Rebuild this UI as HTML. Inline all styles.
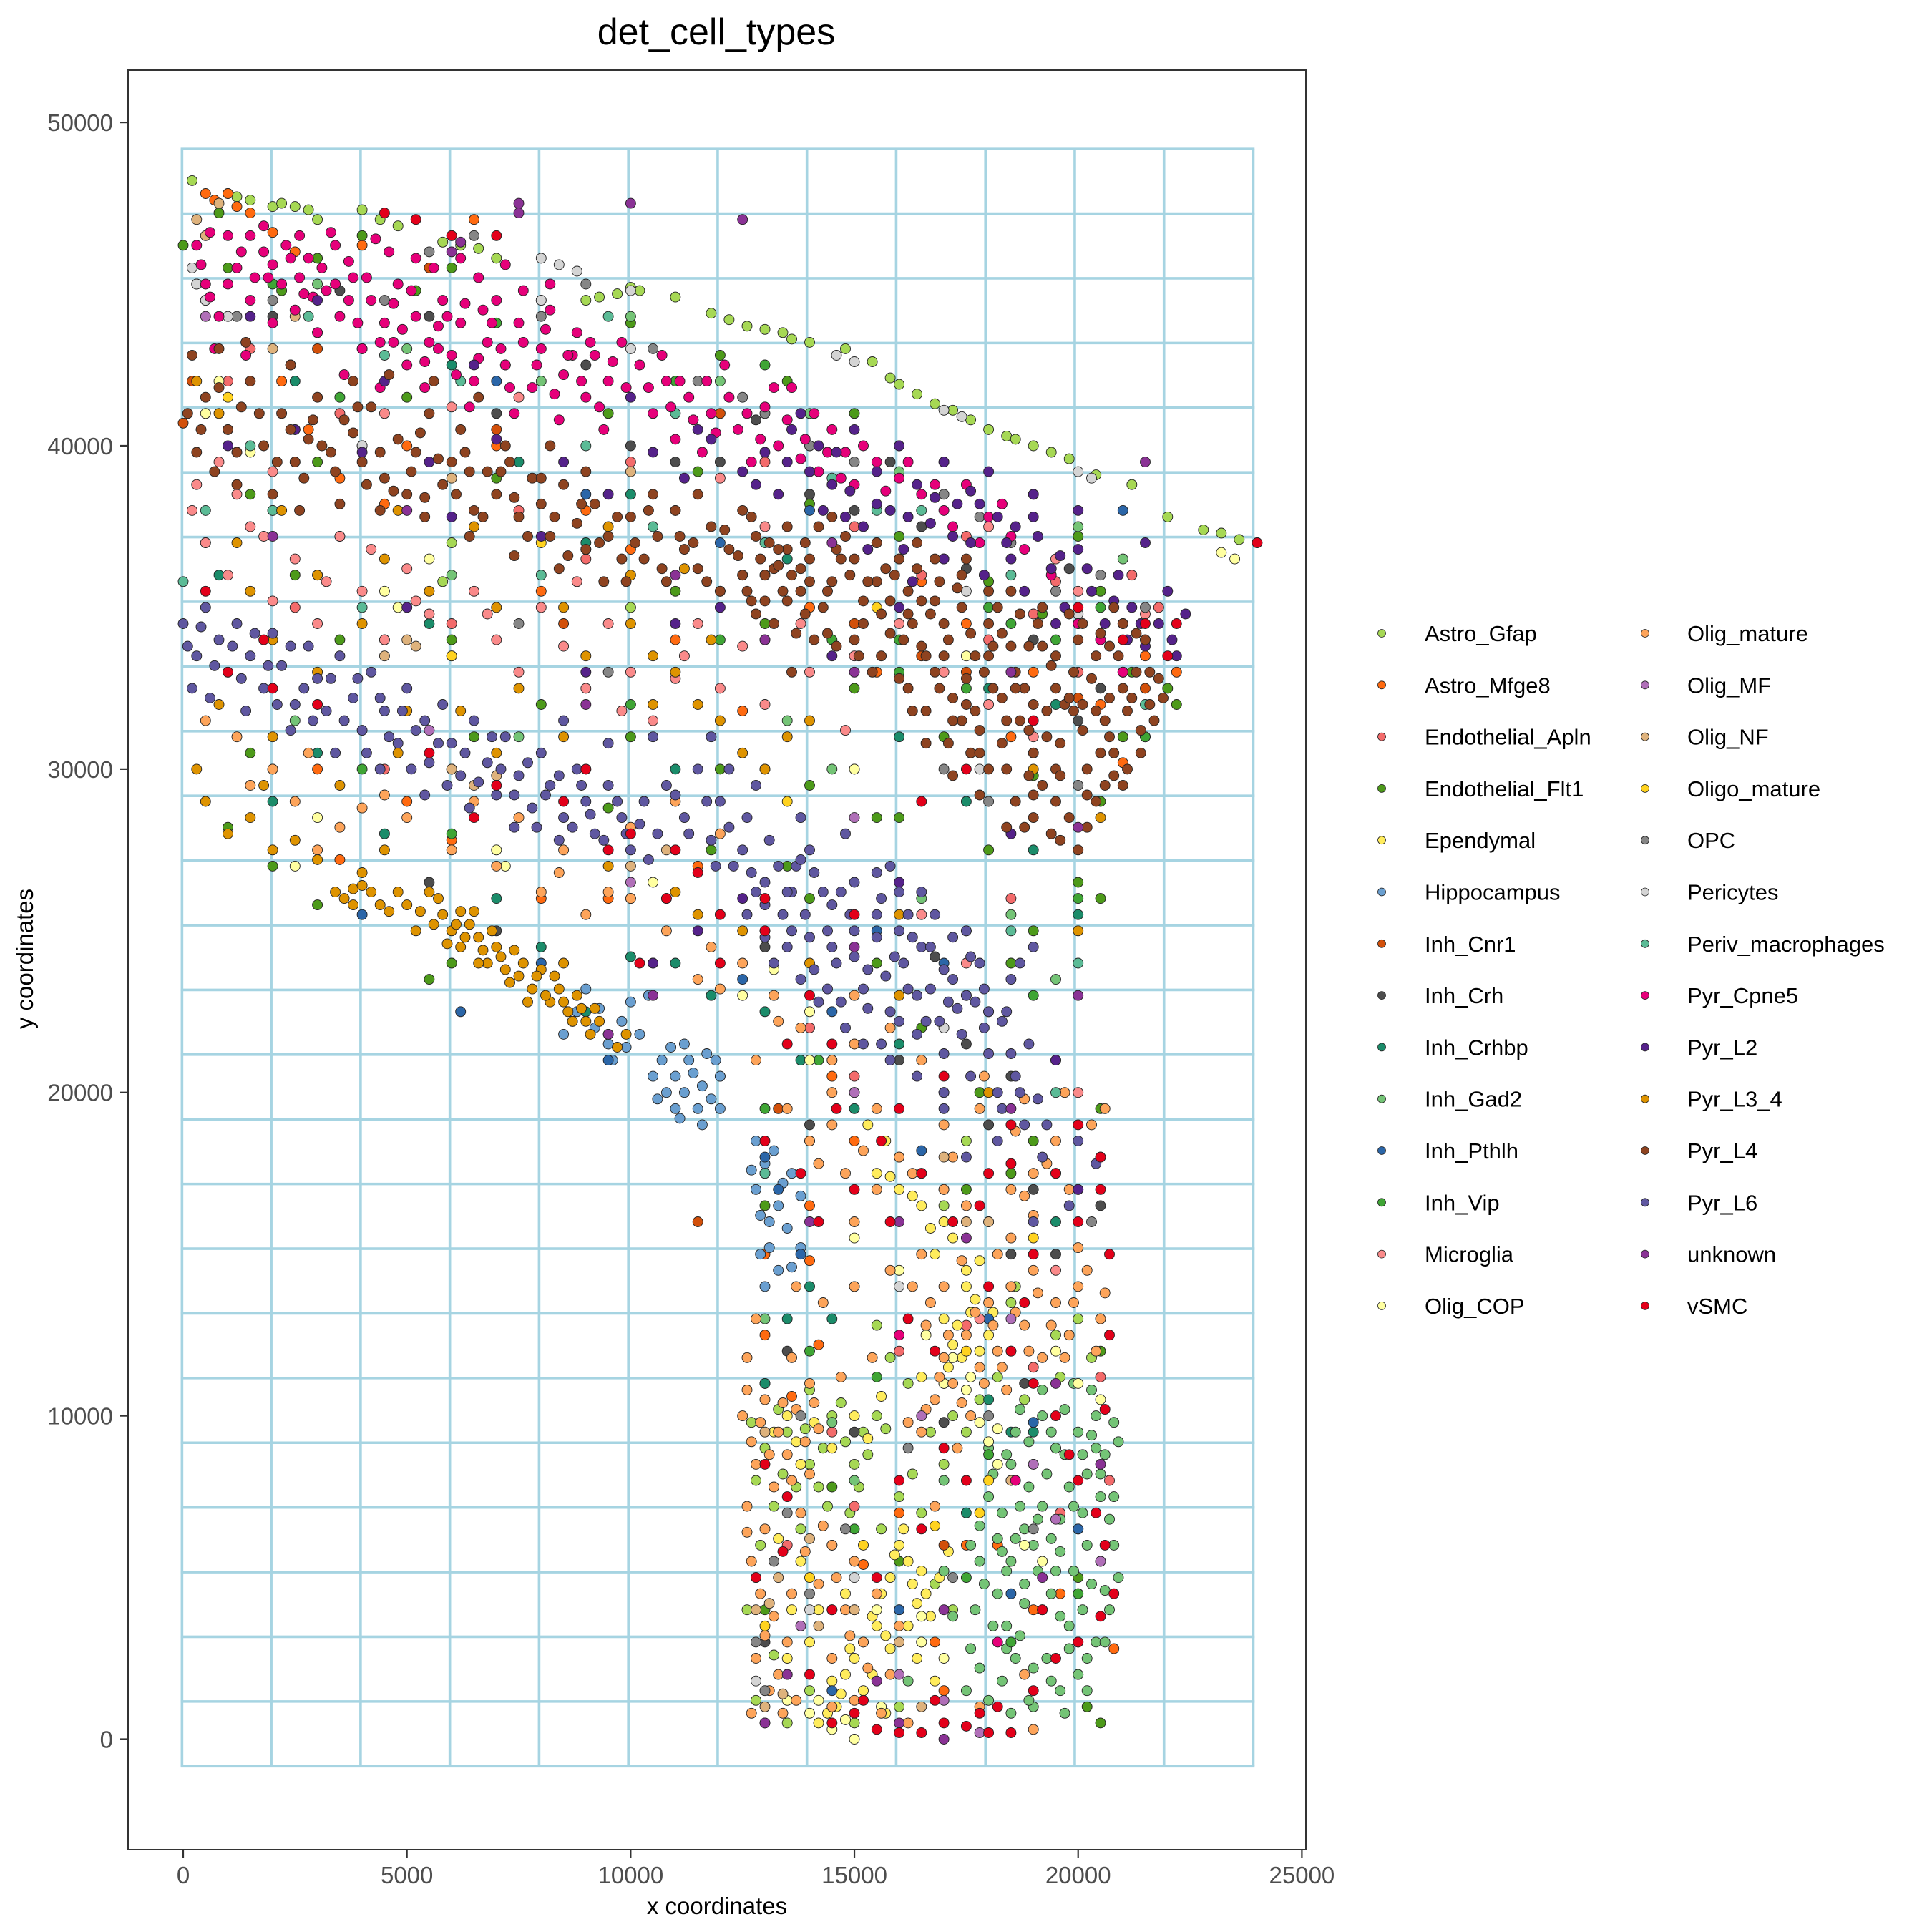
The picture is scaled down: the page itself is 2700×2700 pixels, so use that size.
<!DOCTYPE html>
<html><head><meta charset="utf-8"><title>det_cell_types</title>
<style>
html,body{margin:0;padding:0;background:#fff;}
svg{display:block;font-family:"Liberation Sans",Arial,sans-serif;}
</style></head>
<body>
<svg id="chart" width="2700" height="2700" viewBox="0 0 2700 2700">
<rect x="0" y="0" width="2700" height="2700" fill="#fff"/>
<text x="1001" y="62" font-size="52" text-anchor="middle" fill="#000">det_cell_types</text>
<g id="grid"></g>
<g id="points"></g>
<rect x="179" y="98" width="1646" height="2487" fill="none" stroke="#333" stroke-width="2"/>
<g id="axes"></g>
<text x="1002" y="2675" font-size="33" text-anchor="middle" fill="#000">x coordinates</text>
<text transform="translate(46,1340) rotate(-90)" font-size="33" text-anchor="middle" fill="#000">y coordinates</text>
<g id="legend"></g>
</svg>
<script>
// data (coordinates in hundreds of units)
const categories = ["Astro_Gfap","Astro_Mfge8","Endothelial_Apln","Endothelial_Flt1","Ependymal","Hippocampus","Inh_Cnr1","Inh_Crh","Inh_Crhbp","Inh_Gad2","Inh_Pthlh","Inh_Vip","Microglia","Olig_COP","Olig_mature","Olig_MF","Olig_NF","Oligo_mature","OPC","Pericytes","Periv_macrophages","Pyr_Cpne5","Pyr_L2","Pyr_L3_4","Pyr_L4","Pyr_L6","unknown","vSMC"];
const xTicks = [0,5000,10000,15000,20000,25000];
const yTicks = [0,10000,20000,30000,40000,50000];
const xTickLabels = ["0","5000","10000","15000","20000","25000"];
const yTickLabels = ["0","10000","20000","30000","40000","50000"];

const astroGfap = [2,482,10,478,15,476,20,474,25,474,40,473,48,468,62,462,66,461,90,445,100,449,102,448,110,446,122,439,126,437,130,436,134,435,136,433,148,430,154,426,160,419,164,416,168,413,176,408,180,405,184,403,190,400,198,396,204,391,212,388,220,378,228,374,232,373,236,371,240,370,
130,90,135,95,140,85,142,78,145,100,148,92,150,85,152,95,155,100,128,80,132,72,138,65,145,60,160,75,165,70,170,85,175,95,178,105,195,125,200,130,185,135,175,185,170,165,158,118,140,15,150,5,160,10,130,110,60,370,100,350,20,380,
12,477,22,475,28,473,30,470,44,470,58,463,70,458,93,446,97,447,118,441,140,432,158,421,172,411,186,402,194,398,
127,98,133,102,137,78,139,96,143,90,147,104,151,78,153,88,157,96,134,82,129,60,126,40,144,72,149,70,156,65,163,82,167,95,172,100,182,112,188,105,168,48,172,40,135,5,128,12,132,26,186,140,196,112,203,118,162,110,140,108,155,128,58,358,35,372];
const astroMfge8 = [5,478,10,478,15,472,20,466,25,460,40,462,60,465,65,470,10,405,35,390,50,400,70,400,90,380,100,368,130,360,140,350,165,358,175,345,190,330,205,320,215,335,222,330,35,272,60,278,80,260,115,270,120,205,145,205,150,185,140,165,150,140,160,70,175,60,190,40,200,20,170,15,140,148,130,125,
7,476,12,474,22,420,28,405,45,382,80,355,110,340,125,318,155,330,185,310,210,302,30,300,50,290,95,260,130,150,136,106,142,122,152,54,168,30,182,60,196,45,208,28];
const endothelialApln = [25,350,60,345,90,365,130,395,150,375,165,360,180,340,200,330,218,350,140,220,170,170,160,120,145,95,150,72,190,115,205,112,10,420,100,395,190,348,207,80,
15,430,35,410,75,380,110,380,140,400,160,365,175,372,195,358,212,360,185,260,150,205,135,60,175,128,196,70,45,300,20,300];
const endothelialFlt1 = [0,462,10,455,22,448,40,465,60,455,80,445,100,438,120,428,135,420,150,410,170,395,190,385,200,372,215,340,220,325,50,415,30,395,15,385,70,390,90,368,110,355,130,345,150,325,170,310,190,298,205,290,210,310,222,320,5,370,25,360,60,340,80,320,100,310,120,300,140,295,160,285,180,275,200,265,205,260,10,282,20,270,30,258,55,235,60,240,190,250,185,240,180,225,195,210,205,195,185,175,175,170,130,165,130,40,135,20,200,50,202,10,205,5,140,260,155,285,
8,472,30,458,52,448,72,425,95,410,115,392,140,382,160,372,180,358,192,348,205,355,212,330,35,340,15,305,65,310,95,288,118,275,135,270,155,240,165,220,178,200,190,185,200,170,185,140,170,110,160,55,150,40,145,78,195,90,205,120];
const ependymal = [160,60,162,55,158,50,163,48,156,45,160,40,155,35,152,30,158,28,150,25,148,20,145,18,152,15,146,10,142,5,165,52,166,45,162,35,140,30,135,25,148,45,142,40,138,55,133,62,170,130,172,122,175,140,176,132,174,118,178,148,168,150,170,160,165,165,160,170,155,175,160,180,165,112,168,105,180,125,150,200,153,190,157,185,145,210,132,95,135,100,150,100,145,90,138,85,164,25,168,18,157,8,136,40,
161,65,159,57,164,42,154,38,157,32,149,28,147,14,144,8,154,20,167,38,169,50,171,58,173,128,177,136,175,145,172,155,167,158,163,168,158,174,171,115,178,120,181,132,137,92,141,98,153,93,156,106];
const hippocampus = [107,210,110,205,112,200,115,195,108,200,113,210,116,202,118,198,110,195,105,205,112,215,117,212,120,205,120,195,88,225,92,220,95,215,98,222,100,228,102,218,96,210,85,218,90,232,104,230,128,185,130,178,128,170,131,160,129,150,133,165,135,158,138,152,133,145,130,140,136,175,138,168,132,182,
109,214,114,206,119,210,106,198,111,192,116,190,93,226,99,214,87,222,127,176,134,172,131,152,136,146,129,162];
const inhCnr1 = [0,407,2,420,30,430,70,405,150,345,165,335,200,322,140,185,115,160,133,195,205,130,170,60,
55,455,120,410,175,330,215,325,100,260,85,345];
const inhCrh = [3,450,20,440,40,430,70,410,100,400,120,395,150,380,165,375,175,362,190,340,205,325,130,245,160,210,175,215,180,190,190,170,195,150,140,190,135,120,150,95,170,98,185,150,70,250,55,265,110,395,140,385,200,315,215,310,
35,448,55,440,90,425,128,408,158,395,183,382,198,362,168,242,185,205,205,165,188,110,145,40,130,30];
const inhCrhbp = [20,290,30,305,45,280,70,260,80,245,90,225,100,242,110,240,118,230,130,225,138,210,150,195,160,215,180,105,190,95,175,70,135,130,145,130,160,145,55,345,40,400,90,370,120,355,180,325,195,320,205,305,60,425,110,300,150,300,8,360,
25,420,75,395,100,385,135,365,160,310,175,290,190,275,200,255,130,110,140,140,185,95,195,160,170,200];
const inhGad2 = [180,75,183,70,185,80,188,65,190,85,192,72,195,90,198,78,200,95,202,82,204,100,206,88,208,75,185,55,188,48,190,60,192,40,195,52,198,35,200,45,202,60,205,55,207,40,182,45,184,35,186,25,183,18,180,12,193,25,196,15,200,20,204,30,180,90,186,95,192,100,197,102,203,108,200,65,194,62,182,62,178,55,177,40,176,28,175,15,190,10,205,75,208,60,201,70,189,92,196,68,176,60,185,85,150,80,145,98,130,130,170,80,
30,450,50,430,80,420,100,440,120,420,140,410,160,392,200,375,210,365,60,360,45,340,25,315,75,310,90,300,135,315,145,300,165,260,185,255,195,235,
181,82,184,88,187,72,189,78,191,68,193,82,194,95,197,88,199,72,201,88,203,94,205,82,207,68,183,58,186,62,188,42,191,52,194,45,196,38,199,52,201,40,203,48,206,46,184,28,187,32,190,22,194,18,198,28,202,25,179,48,181,35,178,22,187,102,192,108,199,110,204,90,209,92,209,50,206,30,196,58,184,52,178,66,189,12,185,8,197,8,202,15,208,98,170,52,172,38,165,30,162,18];
const inhPthlh = [40,255,62,225,80,240,95,210,130,180,133,170,138,150,180,130,190,98,185,45,145,15,160,40,210,380,120,370,30,360,70,420,155,250,170,240,
125,235,145,225,165,182,200,65,140,380,90,385];
const inhVip = [40,300,60,280,100,320,120,340,145,340,160,340,180,350,195,340,210,330,130,195,142,210,190,230,200,260,200,45,185,30,175,50,160,125,180,88,150,65,20,450,35,415,
70,438,110,420,130,425,185,345,205,350,215,310,160,330,175,325,140,120,155,112];
const microglia = [5,370,10,360,15,375,20,352,25,365,30,345,35,372,40,355,45,340,50,362,55,348,60,335,65,355,70,340,75,330,80,350,85,338,90,325,95,345,100,330,105,315,110,328,115,345,120,325,125,338,130,320,140,330,150,335,160,345,170,330,180,320,190,310,2,380,12,385,8,395,25,405,45,410,75,415,120,390,130,375,155,370,180,375,195,365,200,355,215,348,165,255,175,240,200,200,195,145,178,130,
3,388,18,372,32,358,42,368,52,352,68,348,88,358,98,318,112,335,138,345,148,312,20,392,60,412];
const oligCOP = [5,410,8,420,15,398,45,355,70,275,72,270,105,265,108,260,125,230,140,210,150,155,160,145,166,125,170,110,175,108,178,98,180,92,182,85,165,30,170,25,140,8,145,3,150,0,135,12,155,40,195,120,200,110,205,105,188,60,55,365,30,285,25,270,150,300,175,335,232,367,235,365,
142,12,148,6,156,10,165,38,172,118,176,112,182,96,192,55,140,225,132,238,48,350];
const oligMature = [125,100,127,92,128,85,130,105,132,78,133,95,135,88,137,102,138,70,140,82,142,96,130,65,127,55,129,45,132,38,135,30,128,25,131,15,134,8,126,72,126,118,128,130,145,60,150,55,148,40,155,45,152,30,158,20,145,25,160,35,142,48,150,12,162,5,165,95,168,105,170,118,172,110,175,125,178,115,180,135,182,120,185,140,188,128,190,145,176,100,184,108,192,118,195,135,198,125,200,140,205,130,166,128,170,140,173,90,170,170,175,165,180,160,185,170,190,175,195,185,172,180,178,195,186,188,160,180,155,170,150,160,148,175,140,185,145,200,155,195,165,150,158,145,150,140,143,135,137,140,165,210,158,220,150,230,145,210,138,220,132,230,125,240,118,245,15,295,25,290,35,282,50,285,60,275,70,270,80,262,90,255,100,260,105,240,115,235,85,275,75,285,120,280,110,290,100,282,60,300,45,292,28,305,12,310,5,315,140,110,136,118,147,112,154,118,185,155,190,162,200,152,162,98,168,72,188,20,178,10,190,3,
126,108,129,98,131,88,134,104,136,80,139,92,141,104,126,64,128,50,130,32,133,20,127,8,136,45,139,58,143,66,146,50,149,32,153,22,156,8,137,12,145,10,166,102,169,112,171,125,174,104,177,132,179,110,181,128,183,115,186,132,189,120,191,138,194,128,197,118,199,135,202,145,204,120,206,138,167,135,174,148,163,140,182,150,188,168,193,178,198,170,203,190,206,195,197,200,188,198,179,205,170,190,163,175,152,182,142,178,135,195,145,190,150,215,128,210,133,222,120,232,108,250,95,262,84,268,65,290,40,288,20,300,30,275];
const oligMF = [5,440,55,312,60,300,100,265,130,250,150,285,165,100,195,68,185,130,205,180,160,20,205,55,178,2,
150,200,170,12,138,35,190,85];
const oligNF = [3,470,5,465,8,475,45,335,50,340,60,300,70,298,100,270,108,275,130,95,133,50,140,62,142,35,160,30,165,10,170,180,180,160,185,80,20,430,25,440,12,398,60,390,100,392,130,10,134,14,
52,338,65,295,128,40,131,42,150,40,175,160];
const oligoMature = [10,415,15,420,60,335,80,370,130,300,135,290,175,120,180,80,178,70,130,35,165,175,200,30,155,350,168,66,
152,60,140,50,190,155];
const opc = [5,445,12,440,30,435,45,445,65,465,80,440,105,430,115,420,130,410,140,400,170,385,185,370,195,355,210,345,215,350,25,395,75,345,95,330,130,175,135,70,132,55,140,45,148,65,162,90,180,100,190,65,203,160,170,300,180,290,200,295,
20,445,55,460,90,450,125,415,150,395,160,400,178,378,205,360,130,15,128,30,138,100,172,50,185,120];
const pericytes = [80,458,84,456,88,454,146,428,150,426,170,411,174,409,200,392,203,390,5,445,3,450,40,400,80,445,100,430,175,355,200,348,205,340,210,330,178,300,190,305,160,140,170,220,140,40,150,50,100,448,
2,455,10,440,130,5,128,18];
const perivMacrophages = [0,358,5,380,20,380,40,350,80,360,105,375,130,370,155,380,170,365,185,360,200,345,45,428,28,440,90,400,110,410,200,240,195,200,130,175,
15,400,62,420,95,440,145,390,165,380,215,320,185,250];
const pyrCpne5 = [5,450,8,440,12,455,15,445,18,460,20,438,22,450,25,442,28,458,30,435,32,448,35,440,38,452,40,430,42,445,45,438,48,450,50,425,52,440,55,432,58,445,60,428,62,438,65,420,68,432,70,445,72,425,75,438,78,418,80,430,82,442,85,422,88,435,90,415,92,428,95,420,98,432,3,462,10,465,18,468,26,465,34,462,46,460,56,455,66,452,76,448,7,430,14,428,24,425,36,422,44,418,54,418,64,412,74,410,84,408,94,405,102,425,105,410,108,420,110,402,113,415,116,398,118,410,121,425,124,405,127,395,130,412,133,400,136,418,139,402,142,392,145,405,148,398,150,388,155,395,160,390,165,385,170,380,175,388,180,378,185,372,200,345,210,330,186,80,182,30,160,125,19,452,27,447,37,457,47,432,57,437,67,442,87,428,
4,456,6,446,10,450,13,460,16,452,20,456,23,462,26,452,29,446,31,455,34,450,37,445,39,438,41,452,44,432,47,444,49,436,51,448,54,426,57,430,59,440,61,422,63,444,66,427,69,438,71,430,73,418,76,432,79,425,81,436,83,416,86,428,89,420,91,432,93,412,96,426,99,418,104,418,107,428,109,412,111,420,114,408,117,420,119,404,122,415,126,410,129,402,132,418,135,408,138,396,141,410,144,398,147,390,152,400,157,386,162,395,168,388,172,375,178,370,183,382,188,368,194,360,205,340,6,466,15,465,24,458,33,466,43,464,52,458,62,458,72,456,82,450];
const pyrL2 = [25,405,40,398,55,395,70,402,85,395,95,385,105,398,112,390,118,402,125,392,130,398,133,385,136,405,140,392,143,380,146,398,149,386,152,375,155,392,158,380,161,368,164,388,167,376,170,365,173,382,176,370,179,360,182,378,185,365,188,355,191,372,194,362,197,350,200,368,203,355,206,345,209,360,212,350,215,338,218,345,220,355,222,335,138,410,150,405,160,400,170,395,180,392,190,385,200,380,215,370,10,400,60,378,80,372,110,345,120,350,145,335,90,330,50,350,160,350,176,386,186,375,160,265,175,250,195,210,200,170,
15,440,30,445,45,420,65,425,100,415,115,405,128,388,142,400,148,378,155,382,162,378,168,384,172,372,178,382,184,370,190,378,196,366,202,362,208,352,214,345,221,340,224,348,135,395,145,388,153,368,163,358,195,345,211,340,185,280,125,260,115,250,105,240];
const pyrL34 = [34,262,38,258,42,262,46,256,50,258,55,262,58,255,60,250,62,245,64,252,66,248,68,240,70,245,72,238,75,236,78,232,80,238,82,228,84,232,86,225,88,230,90,222,92,226,95,218,38,263,52,250,62,256,74,244,85,240,5,290,10,280,15,285,20,275,25,278,30,272,40,268,8,320,20,310,35,295,48,305,62,318,75,325,90,335,100,345,110,330,118,340,120,315,125,305,130,300,15,355,30,360,45,365,55,355,70,350,85,350,100,360,112,362,20,340,40,345,105,320,95,270,110,262,115,255,125,250,140,240,160,230,180,200,22,380,12,370,190,300,205,285,
36,260,40,264,44,258,48,262,53,256,57,260,61,252,63,248,65,256,67,244,69,250,71,242,73,234,76,240,79,236,81,230,83,236,85,228,87,222,89,226,91,218,93,222,97,214,99,218,56,252,59,246,66,240,77,228,48,380,65,375,95,375,105,335,115,320,135,310,140,315,30,330,50,318,70,305,85,310,3,300,18,295,45,275,8,410,3,420,160,255,175,230,200,250];
const pyrL4 = [5,415,10,405,15,420,18,400,22,410,25,395,28,402,30,415,33,398,36,408,40,395,42,412,45,390,48,402,50,385,52,398,55,410,58,388,60,395,62,405,65,380,68,392,70,385,72,400,75,378,78,390,80,382,82,372,85,388,88,376,90,368,92,382,95,372,98,365,3,398,7,392,12,388,20,385,26,380,35,382,44,380,54,378,64,372,74,366,84,362,94,358,2,428,8,430,14,432,24,425,38,420,46,422,56,420,66,415,
100,378,103,365,106,372,108,358,110,380,112,368,115,362,118,375,120,355,122,368,125,360,128,372,130,352,132,362,135,368,138,355,105,385,115,385,125,380,
125,360,128,348,131,370,134,355,137,342,140,365,143,350,146,338,149,360,152,345,155,370,158,352,161,340,164,362,167,348,170,335,173,356,176,342,179,330,182,350,185,338,188,325,191,345,194,332,197,320,200,340,203,328,206,315,209,335,212,322,215,340,
130,340,136,330,142,375,148,372,154,330,160,328,166,318,172,322,178,312,184,315,190,305,196,308,202,300,208,305,214,312,
127,352,133,363,139,348,145,358,151,335,157,362,163,345,169,358,175,328,181,338,187,348,193,318,199,330,205,342,211,300,
162,325,168,330,174,315,180,300,186,290,192,295,198,285,204,290,210,295,176,305,183,322,189,312,195,300,201,312,207,322,213,330,
140,358,146,368,152,352,158,342,164,370,170,345,144,342,150,365,156,348,162,355,168,365,174,350,180,345,186,330,192,338,198,348,204,335,210,345,216,320,
171,308,177,318,183,308,189,298,195,290,201,320,207,310,194,280,200,275,188,282,
135,375,145,378,155,358,165,352,175,365,185,355,195,325,208,350,218,328,160,365,180,335,190,320,
1,410,4,405,8,418,12,398,17,410,21,395,24,405,27,390,31,400,34,392,38,404,41,388,44,398,47,386,51,392,54,384,57,396,61,385,64,392,67,378,71,392,74,384,77,372,80,390,83,378,86,366,89,382,93,370,97,378,99,358,13,412,29,408,39,412,53,404,63,398,73,395,82,400,90,392,
101,370,104,380,107,362,111,372,114,370,117,358,121,374,124,366,127,378,130,360,133,368,136,360,139,370,
126,355,129,365,132,345,135,352,138,362,141,340,144,355,147,365,150,340,153,358,156,335,159,360,162,348,165,338,168,352,171,340,174,360,177,335,180,355,183,342,186,325,189,338,192,350,195,335,198,322,201,345,204,318,207,338,210,325,213,342,216,330,219,322,
163,318,166,335,169,325,172,315,175,320,178,305,181,325,184,300,187,315,190,292,193,310,196,298,199,318,202,292,205,305,208,298,211,318,214,305,217,315,
178,292,184,282,190,285,196,278,202,282,206,295,172,298,166,308];
const pyrL6 = [0,345,3,335,5,350,8,340,10,330,12,345,15,335,18,325,20,342,22,332,25,320,28,338,30,328,32,318,35,335,38,322,40,312,42,330,45,318,48,308,50,325,52,312,55,302,58,320,60,308,62,298,65,315,68,302,70,292,72,310,75,298,78,288,80,305,82,295,85,285,88,300,90,290,92,280,95,295,98,285,100,275,103,290,106,280,2,325,6,322,14,318,24,312,34,305,44,300,54,292,64,288,74,282,84,278,
108,295,112,285,115,300,118,278,120,290,123,270,126,285,128,262,131,278,134,255,137,270,140,248,143,262,146,240,149,255,152,232,155,248,158,225,161,240,164,218,167,232,170,212,173,226,176,205,179,220,182,200,185,212,
130,265,135,245,140,275,145,258,150,242,155,268,160,250,165,245,170,238,175,230,180,225,150,265,160,262,162,232,168,255,172,248,178,240,132,240,138,235,142,228,148,220,152,215,158,210,164,205,170,200,145,245,155,255,165,262,175,250,185,235,190,245,182,185,188,190,175,180,192,180,170,195,158,270,148,280,138,285,128,295,122,300,105,310,95,308,85,315,118,310,
195,175,200,185,204,178,198,165,190,160,
1,338,4,344,7,332,11,338,13,328,16,342,19,332,21,320,24,338,27,325,29,315,33,328,36,315,39,328,41,305,44,322,46,310,49,318,51,300,54,315,57,308,59,295,63,305,66,296,69,310,71,300,74,292,77,302,79,282,81,292,84,298,87,282,89,295,91,286,94,278,97,290,99,280,102,283,104,272,
110,292,113,280,117,290,119,270,122,282,125,275,127,268,130,258,133,270,136,262,139,255,141,268,144,250,147,262,150,250,153,238,156,260,159,242,162,255,164,230,167,245,169,222,172,235,174,218,177,228,180,212,183,222,186,205,189,215,191,198,
135,262,138,272,141,238,144,232,147,228,153,226,157,236,163,248,166,222,171,228,176,242,179,232,184,225,187,240,156,215,160,222,136,250,130,248,126,255,187,200,193,190,183,195];
const unknownCells = [60,460,62,463,75,475,75,472,100,475,125,470,50,380,90,320,130,340,150,330,95,218,105,230,140,160,160,160,175,155,185,195,200,230,215,395,195,110,205,85,160,5,170,0,135,20,150,245,200,282,
20,372,110,360,145,370,185,330,130,5,155,18,170,40,192,50];
const vsmc = [130,85,135,75,140,20,145,5,150,8,155,3,160,2,165,2,170,5,175,4,178,8,182,10,185,2,190,15,195,25,200,30,205,38,208,45,206,60,204,70,200,80,195,100,190,110,185,120,175,80,170,90,165,65,160,80,155,50,145,40,162,130,168,120,180,140,190,150,200,160,205,170,205,180,200,190,195,175,185,178,178,165,172,160,165,175,158,160,150,170,142,160,138,175,130,185,185,190,160,195,145,215,140,230,130,250,115,268,110,275,100,280,95,275,102,240,120,240,130,260,85,290,70,295,10,330,20,325,30,320,60,465,70,465,200,350,215,345,190,315,175,300,165,290,150,255,220,335,240,370,207,125,207,150,
128,50,134,58,152,12,168,12,180,2,192,40,198,88,206,102,188,135,180,175,170,205,156,185,146,195,135,215,120,255,108,260,90,300,65,285,55,305,18,340,5,355,45,472,52,470,210,340,222,345];

const seriesValues = [astroGfap,astroMfge8,endothelialApln,endothelialFlt1,ependymal,hippocampus,inhCnr1,inhCrh,inhCrhbp,inhGad2,inhPthlh,inhVip,microglia,oligCOP,oligMature,oligMF,oligNF,oligoMature,opc,pericytes,perivMacrophages,pyrCpne5,pyrL2,pyrL34,pyrL4,pyrL6,unknownCells,vsmc];
const colors = ["#A6D854","#FF6A10","#F36B6B","#4D9A1A","#FFEC5C","#6A9FD0","#D2500A","#4D4D4D","#1B8C6A","#74C476","#2B66A8","#3FA535","#FA8A8A","#FFFFA0","#FDA45A","#B06FB8","#DEB27C","#FFD21F","#868686","#D4D4D4","#5BBB96","#E6007A","#55228A","#DE9300","#8E4320","#5F57A0","#8A3295","#E3001A"];

const NS = "http://www.w3.org/2000/svg";
function xScale(v){ return 256 + v * 0.062536; }
function yScale(v){ return 2430.5 - v * 0.045188; }

// grid
const grid = document.getElementById('grid');
const gx0 = -26, gx1 = 23914, gy0 = -836, gy1 = 49180;
for (let k = 0; k <= 12; k++) {
  const x = xScale(gx0 + k * (gx1 - gx0) / 12);
  const l = document.createElementNS(NS, 'line');
  l.setAttribute('x1', x); l.setAttribute('x2', x);
  l.setAttribute('y1', yScale(gy1)); l.setAttribute('y2', yScale(gy0));
  l.setAttribute('stroke', '#A6D4E2'); l.setAttribute('stroke-width', '3.6');
  
  
  grid.appendChild(l);
}
for (let k = 0; k <= 25; k++) {
  const y = yScale(gy0 + k * (gy1 - gy0) / 25);
  const l = document.createElementNS(NS, 'line');
  l.setAttribute('y1', y); l.setAttribute('y2', y);
  l.setAttribute('x1', xScale(gx0) - 1.8); l.setAttribute('x2', xScale(gx1) + 1.8);
  l.setAttribute('stroke', '#A6D4E2'); l.setAttribute('stroke-width', '3.6');
  
  
  grid.appendChild(l);
}

// points
const pg = document.getElementById('points');
seriesValues.forEach((arr, si) => {
  const g = document.createElementNS(NS, 'g');
  
  
  for (let i = 0; i + 1 < arr.length; i += 2) {
    const c = document.createElementNS(NS, 'circle');
    c.setAttribute('cx', xScale(arr[i] * 100).toFixed(1));
    c.setAttribute('cy', yScale(arr[i + 1] * 100).toFixed(1));
    c.setAttribute('r', '7');
    c.setAttribute('fill', colors[si]);
    c.setAttribute('stroke', '#222');
    c.setAttribute('stroke-width', '0.9');
    
    
    g.appendChild(c);
  }
  pg.appendChild(g);
});

// axes
const ax = document.getElementById('axes');
xTicks.forEach((v, i) => {
  const x = xScale(v);
  const t = document.createElementNS(NS, 'line');
  t.setAttribute('x1', x); t.setAttribute('x2', x);
  t.setAttribute('y1', 2585); t.setAttribute('y2', 2596);
  t.setAttribute('stroke', '#333'); t.setAttribute('stroke-width', '2.2');
  
  
  ax.appendChild(t);
  const s = document.createElementNS(NS, 'text');
  s.setAttribute('x', x); s.setAttribute('y', 2632);
  s.setAttribute('font-size', '33'); s.setAttribute('fill', '#4D4D4D');
  s.setAttribute('text-anchor', 'middle');
  
  
  s.textContent = xTickLabels[i];
  ax.appendChild(s);
});
yTicks.forEach((v, i) => {
  const y = yScale(v);
  const t = document.createElementNS(NS, 'line');
  t.setAttribute('x1', 168); t.setAttribute('x2', 179);
  t.setAttribute('y1', y); t.setAttribute('y2', y);
  t.setAttribute('stroke', '#333'); t.setAttribute('stroke-width', '2.2');
  
  
  ax.appendChild(t);
  const s = document.createElementNS(NS, 'text');
  s.setAttribute('x', 158); s.setAttribute('y', y + 12);
  s.setAttribute('font-size', '33'); s.setAttribute('fill', '#4D4D4D');
  s.setAttribute('text-anchor', 'end');
  
  
  s.textContent = yTickLabels[i];
  ax.appendChild(s);
});

// legend
const lg = document.getElementById('legend');
categories.forEach((name, i) => {
  const col = i < 14 ? 0 : 1;
  const row = i % 14;
  const dx = col === 0 ? 1931 : 2299;
  const tx = col === 0 ? 1991 : 2358;
  const y = 885 + row * 72.3;
  const g = document.createElementNS(NS, 'g');
  
  
  const c = document.createElementNS(NS, 'circle');
  c.setAttribute('cx', dx); c.setAttribute('cy', y); c.setAttribute('r', '5.5');
  c.setAttribute('fill', colors[i]); c.setAttribute('stroke', '#222'); c.setAttribute('stroke-width', '0.8');
  
  
  g.appendChild(c);
  const t = document.createElementNS(NS, 'text');
  t.setAttribute('x', tx); t.setAttribute('y', y + 11);
  t.setAttribute('font-size', '31'); t.setAttribute('fill', '#000');
  
  
  t.textContent = name;
  g.appendChild(t);
  lg.appendChild(g);
});
</script>
</body></html>
